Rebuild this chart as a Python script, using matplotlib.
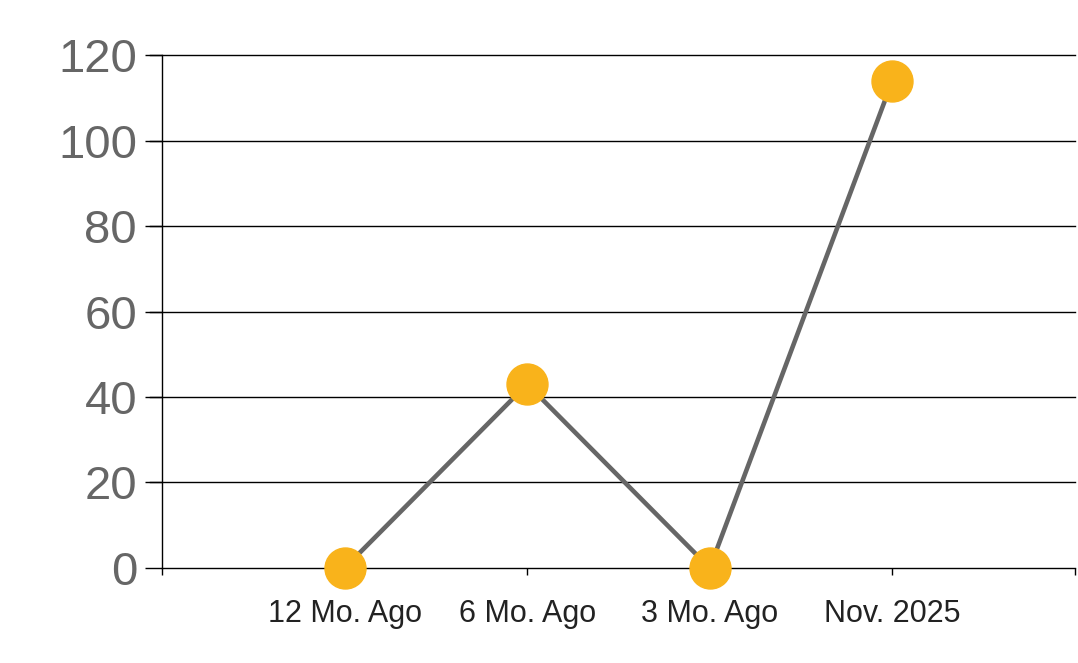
import matplotlib.pyplot as plt

# Data
categories = ['12 Mo. Ago', '6 Mo. Ago', '3 Mo. Ago', 'Nov. 2025']
values = [0, 43, 0, 114]
y_ticks = [0, 20, 40, 60, 80, 100, 120]

plt.rcParams['font.family'] = ['Liberation Sans', 'DejaVu Sans']

fig = plt.figure(figsize=(10.78, 6.63), dpi=100)
ax = fig.add_axes([0.1503, 0.1433, 0.8469, 0.7737])

x = list(range(1, len(categories) + 1))
ax.plot(x, values, color='#666666', linewidth=3.3, zorder=3,
        marker='o', markersize=29.5, markerfacecolor='#F9B31B',
        markeredgecolor='#F9B31B', clip_on=False)

ax.set_xlim(0, len(categories) + 1)
ax.set_ylim(0, 120)

# category boundaries get tick marks, labels sit under the points
ax.set_xticks(range(0, len(categories) + 2))
ax.set_xticklabels([''] + categories + [''])
ax.tick_params(axis='x', length=5, width=1, color='black', pad=17,
               labelsize=22, labelcolor='#222222')

ax.set_yticks(y_ticks)
ax.tick_params(axis='y', length=12, width=1, color='black', pad=6,
               labelsize=34, labelcolor='#666666')

for t in y_ticks[1:]:
    ax.axhline(t, xmin=-0.013, xmax=1, color='black', linewidth=1,
               clip_on=False, zorder=1)

ax.spines['top'].set_visible(False)
ax.spines['right'].set_visible(False)
ax.spines['left'].set_linewidth(1)
ax.spines['bottom'].set_linewidth(1)

fig.savefig('out.png', dpi=100)
